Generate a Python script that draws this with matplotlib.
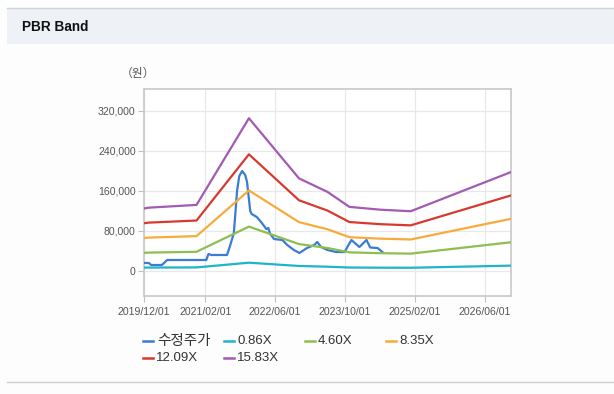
import matplotlib
matplotlib.use('Agg')
import matplotlib.pyplot as plt
import matplotlib.dates as mdates
from matplotlib.patches import Rectangle
from matplotlib.lines import Line2D
import pandas as pd

plt.rcParams['font.family'] = ['Liberation Sans', 'Noto Sans CJK KR', 'DejaVu Sans']

# adjusted price (수정주가)
price_dates = ['2019-12-01', '2020-01-04', '2020-01-20', '2020-04-04', '2020-05-10',
               '2021-02-07', '2021-02-22', '2021-03-15', '2021-07-01', '2021-07-20',
               '2021-08-18', '2021-09-10', '2021-09-25', '2021-10-15', '2021-11-05',
               '2021-11-18', '2021-12-10', '2021-12-20', '2022-01-25', '2022-03-01',
               '2022-04-01', '2022-04-15', '2022-04-28', '2022-05-25', '2022-07-22',
               '2022-08-25', '2022-10-10', '2022-11-18', '2023-01-10', '2023-03-01',
               '2023-03-22', '2023-04-18', '2023-06-01', '2023-08-01', '2023-09-28',
               '2023-11-15', '2024-01-10', '2024-02-28', '2024-03-25', '2024-05-15',
               '2024-06-18']
price_vals = [16000, 16000, 12000, 12000, 22000,
              22000, 34000, 32000, 32000, 48000,
              76000, 162000, 190000, 200000, 192000,
              178000, 120000, 114000, 108000, 96000,
              84000, 86000, 74000, 64000, 62000,
              52000, 42000, 36000, 46000, 52000,
              58000, 48000, 42000, 38000, 38000,
              62000, 48000, 62000, 47000, 46000,
              38000]

# book value per share behind the bands
bps_dates = ['2019-12-01', '2020-01-01', '2020-12-01', '2021-12-01', '2022-11-15',
             '2023-06-01', '2023-11-01', '2024-06-01', '2025-01-01', '2026-12-01']
bps_vals = [7900, 8000, 8350, 19300, 11700, 10000, 8100, 7750, 7550, 12500]

multiples = [0.86, 4.60, 8.35, 12.09, 15.83]
band_labels = ['0.86X', '4.60X', '8.35X', '12.09X', '15.83X']
band_colors = ['#1eb4c9', '#8cbf4f', '#f7ab3b', '#d63a2e', '#a35ab2']

yticks = [0, 80000, 160000, 240000, 320000]
xtick_dates = ['2019-12-01', '2021-02-01', '2022-06-01', '2023-10-01', '2025-02-01', '2026-06-01']

pdates = pd.to_datetime(price_dates)
bdates = pd.to_datetime(bps_dates)

fig = plt.figure(figsize=(6.14, 3.94), dpi=100)
fig.patch.set_facecolor('#fdfdfd')

# header strip
fig.patches.append(Rectangle((7/614, 1 - 44/394), 1, 36/394, transform=fig.transFigure,
                             facecolor='#eef2f7', edgecolor='none', zorder=0))
fig.add_artist(Line2D([7/614, 1], [1 - 8/394, 1 - 8/394], color='#d3d3d3', lw=1))
fig.add_artist(Line2D([7/614, 1], [1 - 382/394, 1 - 382/394], color='#cfcfcf', lw=1))
fig.text(22/614, 1 - 27/394, 'PBR Band', fontsize=9.8, fontweight='bold', va='center', color='#111111')

ax = fig.add_axes([144/614, 1 - 296/394, 367/614, 207/394])
ax.set_facecolor('white')

ax.plot(pdates, price_vals, color='#3a7bd5', lw=1.6, zorder=3)
for m, c in zip(multiples, band_colors):
    ax.plot(bdates, [m * v for v in bps_vals], color=c, lw=1.6, zorder=3)

ax.set_ylim(-50000, 364000)
ax.set_xlim(pd.Timestamp('2019-12-01'), pd.Timestamp('2026-12-01'))
ax.set_yticks(yticks)
ax.set_yticklabels([f'{v:,}' for v in yticks])
ax.set_xticks(pd.to_datetime(xtick_dates))
ax.xaxis.set_major_formatter(mdates.DateFormatter('%Y/%m/%d'))

ax.grid(True, color='#e8e8e8', lw=0.9)
ax.set_axisbelow(True)
for s in ax.spines.values():
    s.set_color('#c8c8c8')
    s.set_linewidth(1.2)
ax.tick_params(axis='both', colors='#c0c0c0', labelcolor='#555555', labelsize=7.6, length=4, width=0.8)
ax.tick_params(axis='x', pad=4)
ax.tick_params(axis='y', pad=2)

fig.text(138/614, 1 - 73/394, '（원）', fontsize=8.5, color='#555555', ha='center', va='center',
         family=['Noto Sans CJK KR', 'DejaVu Sans'])

# legend, two rows
legend_items = [('수정주가', '#3a7bd5', 143, 341), ('0.86X', band_colors[0], 224, 341),
                ('4.60X', band_colors[1], 305, 341), ('8.35X', band_colors[2], 386, 341),
                ('12.09X', band_colors[3], 143, 358), ('15.83X', band_colors[4], 224, 358)]
for label, c, lx, ly in legend_items:
    yy = 1 - ly/394
    fig.add_artist(Line2D([lx/614, (lx + 10)/614], [yy, yy], color=c, lw=1.8))
    if label == '수정주가':
        fig.text((lx + 14)/614, yy, label, fontsize=10.5, color='#333333', va='center',
                 family=['Noto Sans CJK KR', 'DejaVu Sans'])
    else:
        fig.text((lx + 13)/614, yy, label, fontsize=9.5, color='#333333', va='center',
                 family=['Liberation Sans'])

fig.savefig('out.png', dpi=100, facecolor=fig.get_facecolor())
